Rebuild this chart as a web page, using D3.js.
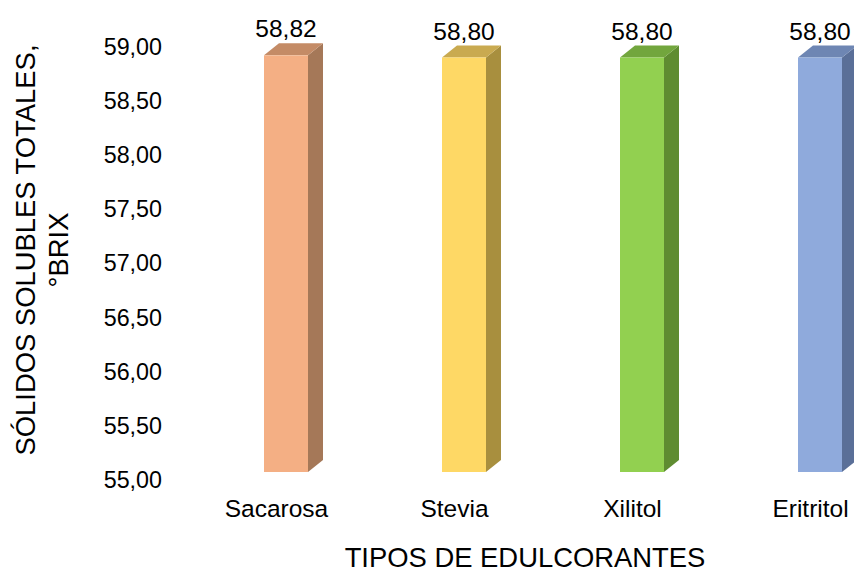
<!DOCTYPE html>
<html><head><meta charset="utf-8">
<script src="https://cdn.jsdelivr.net/npm/d3@7"></script>
<style>body{margin:0;background:#fff}svg{display:block;font-family:"Liberation Sans",Arial,sans-serif}</style>
</head><body>
<svg id="c" width="854" height="573"></svg>
<script>
const categories = ["Sacarosa", "Stevia", "Xilitol", "Eritritol"];
const values = [58.82, 58.80, 58.80, 58.80];
const valueLabels = ["58,82", "58,80", "58,80", "58,80"];
const tickValues = [55, 55.5, 56, 56.5, 57, 57.5, 58, 58.5, 59];
const frontColors = ["#F4AF84", "#FED865", "#92D050", "#8FAADC"];
const topColors = ["#C48B66", "#C9AA50", "#72A63D", "#6E86B3"];
const sideColors = ["#A57858", "#A88F3E", "#5F8C31", "#5A6F98"];

const svg = d3.select("#c");
const barW = 44, dx = 15, dy = 12;

const x = d3.scalePoint().domain(categories).range([286, 820]);
const yBar = d3.scaleLinear().domain([55, 59]).range([472, 35.7]);
const yAxis = d3.scaleLinear().domain([55, 59]).range([480, 46.5]);

const fmt = v => d3.format(".2f")(v).replace(".", ",");

// y tick labels
svg.append("g").selectAll("text").data(tickValues).join("text")
  .attr("x", 162).attr("y", d => yAxis(d)).attr("dy", "0.35em")
  .attr("text-anchor", "end").attr("font-size", 23.3).attr("fill", "#000")
  .text(fmt);

const bars = svg.append("g").selectAll("g").data(categories).join("g");
bars.each(function(c, i) {
  const g = d3.select(this);
  const cx = x(c), x0 = cx - barW / 2, x1 = cx + barW / 2;
  const yt = yBar(values[i]), yb = yBar(55);
  // side
  g.append("path").attr("fill", sideColors[i])
    .attr("d", `M${x1},${yt}L${x1 + dx},${yt - dy}L${x1 + dx},${yb - dy}L${x1},${yb}Z`);
  // top
  g.append("path").attr("fill", topColors[i])
    .attr("d", `M${x0},${yt}L${x1},${yt}L${x1 + dx},${yt - dy}L${x0 + dx},${yt - dy}Z`);
  // front
  g.append("rect").attr("x", x0).attr("y", yt).attr("width", barW).attr("height", yb - yt)
    .attr("fill", frontColors[i]);
  // value label
  g.append("text").attr("x", cx).attr("y", yt - 18).attr("text-anchor", "middle")
    .attr("font-size", 24.5).attr("fill", "#000").text(valueLabels[i]);
  // category label
  g.append("text").attr("x", cx - 9.5).attr("y", 517).attr("text-anchor", "middle")
    .attr("font-size", 24.5).attr("fill", "#000").text(c);
});

svg.append("text").attr("x", 525).attr("y", 567).attr("text-anchor", "middle")
  .attr("font-size", 27.4).attr("fill", "#000").text("TIPOS DE EDULCORANTES");

const yt = svg.append("text").attr("transform", "translate(35,250) rotate(-90)")
  .attr("text-anchor", "middle").attr("font-size", 27.4).attr("fill", "#000");
yt.append("tspan").attr("x", 0).attr("y", 0).text("SÓLIDOS SOLUBLES TOTALES,");
yt.append("tspan").attr("x", 0).attr("y", 33).text("°BRIX");
</script>
</body></html>
